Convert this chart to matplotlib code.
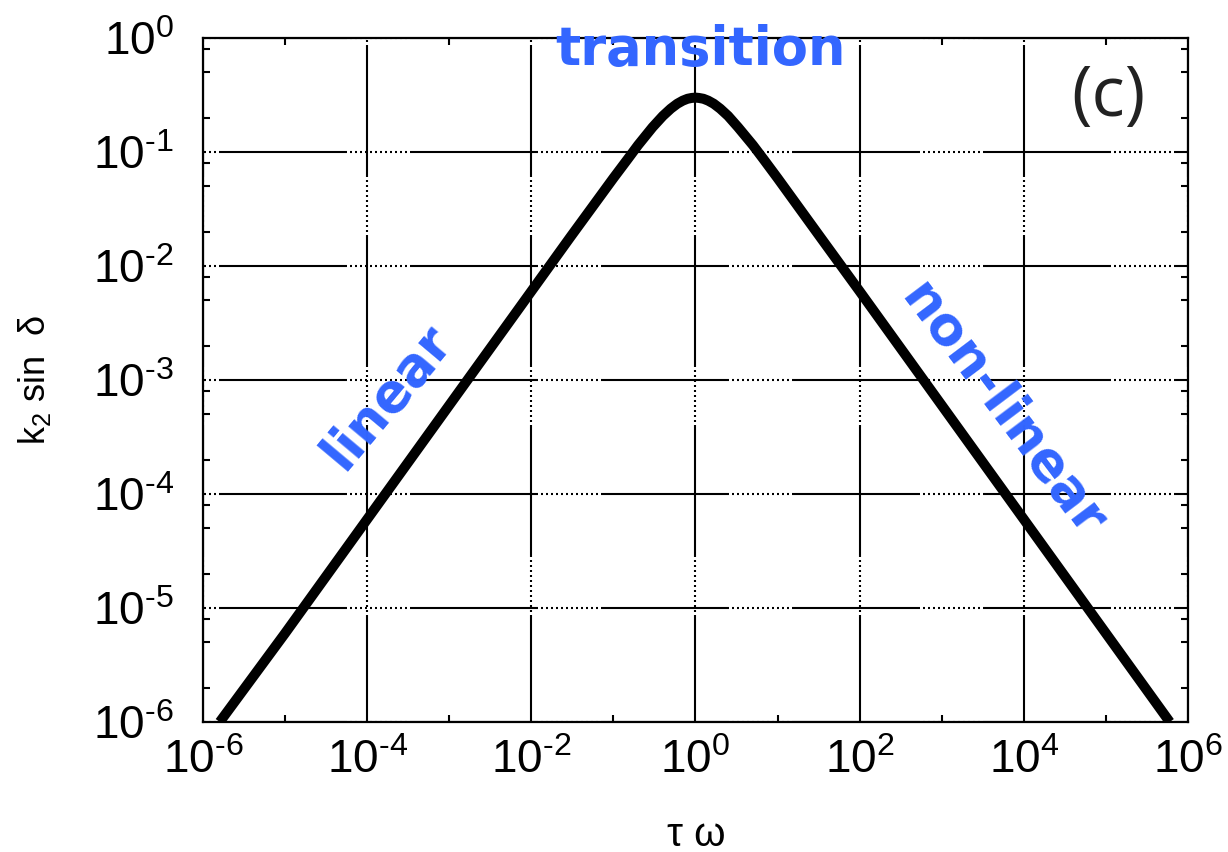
import matplotlib
matplotlib.use("Agg")
import matplotlib.pyplot as plt
from matplotlib import font_manager
from matplotlib.ticker import FixedLocator, FuncFormatter, NullFormatter
import numpy as np


def pick_font(*names):
    for name in names:
        try:
            font_manager.findfont(name, fallback_to_default=False)
            return name
        except Exception:
            continue
    return "DejaVu Sans"


AXIS_FONT = pick_font("Liberation Sans Narrow", "Liberation Sans")
LABEL_FONT = pick_font("Liberation Sans", "DejaVu Sans")

plt.rcParams["font.family"] = [AXIS_FONT, "DejaVu Sans"]
plt.rcParams["mathtext.fontset"] = "custom"
plt.rcParams["mathtext.rm"] = AXIS_FONT
plt.rcParams["mathtext.it"] = AXIS_FONT
plt.rcParams["lines.scale_dashes"] = False

# ---- data: k2 sin(delta) versus tau*omega ----
tau_omega = [1.6e-6, 1e-5, 1e-4, 1e-3, 1e-2, 3e-2, 0.1, 0.15, 0.2, 0.3, 0.4,
             0.5, 0.6, 0.7, 0.8, 0.9, 1.0, 1.1, 1.25, 1.43, 1.67, 2.0, 2.5,
             3.3, 5.0, 6.7, 10.0, 33.0, 1e2, 1e3, 1e4, 1e5, 6e5]
k2_sin_delta = [1e-6, 6e-6, 6e-5, 6e-4, 6e-3, 1.8e-2, 5.9e-2, 8.7e-2, 0.115,
                0.165, 0.207, 0.240, 0.265, 0.282, 0.293, 0.298, 0.300, 0.298,
                0.293, 0.282, 0.265, 0.240, 0.207, 0.165, 0.115, 8.7e-2,
                5.9e-2, 1.8e-2, 6e-3, 6e-4, 6e-5, 6e-6, 1e-6]

x_major = [1e-6, 1e-4, 1e-2, 1e0, 1e2, 1e4, 1e6]
x_minor = [1e-5, 1e-3, 1e-1, 1e1, 1e3, 1e5]
y_major = [1e-6, 1e-5, 1e-4, 1e-3, 1e-2, 1e-1, 1e0]
y_minor_mult = [2, 5, 8]

regime_labels = ["linear", "transition", "non-linear"]
panel_tag = "(c)"
BLUE = "#3366FF"

# ---- figure ----
fig = plt.figure(figsize=(12.28, 8.52), dpi=100)
ax = fig.add_axes([0.1653, 0.1526, 0.9674 - 0.1653, 0.9554 - 0.1526])

ax.set_xscale("log")
ax.set_yscale("log")
ax.set_xlim(1e-6, 1e6)
ax.set_ylim(1e-6, 1e0)

ax.plot(tau_omega, k2_sin_delta, color="black", lw=7.2, solid_capstyle="butt",
        solid_joinstyle="round", zorder=3)

# ticks
ax.xaxis.set_major_locator(FixedLocator(x_major))
ax.xaxis.set_minor_locator(FixedLocator(x_minor))
ax.yaxis.set_major_locator(FixedLocator(y_major))
y_minor = [m * d for d in y_major[:-1] for m in y_minor_mult]
ax.yaxis.set_minor_locator(FixedLocator(y_minor))


def pow_fmt(v, pos):
    n = int(round(np.log10(v)))
    s = str(n).replace("-", "\u2010")
    return r"$\mathregular{10^{%s}}$" % s


ax.xaxis.set_major_formatter(FuncFormatter(pow_fmt))
ax.yaxis.set_major_formatter(FuncFormatter(pow_fmt))
ax.xaxis.set_minor_formatter(NullFormatter())
ax.yaxis.set_minor_formatter(NullFormatter())

ax.tick_params(which="both", direction="in", top=True, right=True,
               color="black", width=1.5)
ax.tick_params(which="major", length=0)
ax.tick_params(which="minor", length=5)
ax.tick_params(axis="x", which="major", labelsize=33, pad=12)
ax.tick_params(axis="y", which="major", labelsize=33, pad=21)

for sp in ax.spines.values():
    sp.set_linewidth(1.6)
    sp.set_color("black")

# grid: solid runs broken by short dotted stretches
px = 0.72  # points per pixel at 100 dpi
h_seq = [v * px for v in [128, 3] + [2, 3] * 12]
v_seq = [v * px for v in [132, 3] + [2, 3] * 11]
ax.grid(True, which="major", axis="y", color="black", lw=1.5,
        linestyle=(175 * px, h_seq))
ax.grid(True, which="major", axis="x", color="black", lw=1.5,
        linestyle=(25 * px, v_seq))
ax.set_axisbelow(True)

# axis labels
ax.set_xlabel("\u03c4 \u03c9", fontsize=29, family=[LABEL_FONT, "DejaVu Sans"])
ax.xaxis.label.set_va("baseline")
ax.xaxis.set_label_coords(0.5005, -0.1813)

ax.set_ylabel("k$_2$ sin  \u03b4", fontsize=26,
              family=[LABEL_FONT, "DejaVu Sans"])
ax.yaxis.label.set_va("center")
ax.yaxis.set_label_coords(-0.1706, 0.5)

# regime annotations
bold = dict(color=BLUE, fontweight="bold", family=["DejaVu Sans"],
            fontsize=38, transform=ax.transAxes, clip_on=False, zorder=5)
ax.text(0.187, 0.475, regime_labels[0], rotation=50, ha="center",
        va="center", rotation_mode="anchor", **bold)
ax.text(0.5056, 0.9605, regime_labels[1], ha="center", va="baseline", **bold)
ax.text(0.812, 0.456, regime_labels[2], rotation=-53, ha="center",
        va="center", rotation_mode="anchor", **bold)

ax.text(0.919, 0.912, panel_tag, ha="center", va="center", fontsize=50,
        color="#222222", family=[pick_font("Open Sans", "DejaVu Sans")],
        transform=ax.transAxes)

fig.savefig("out.png", dpi=100)
